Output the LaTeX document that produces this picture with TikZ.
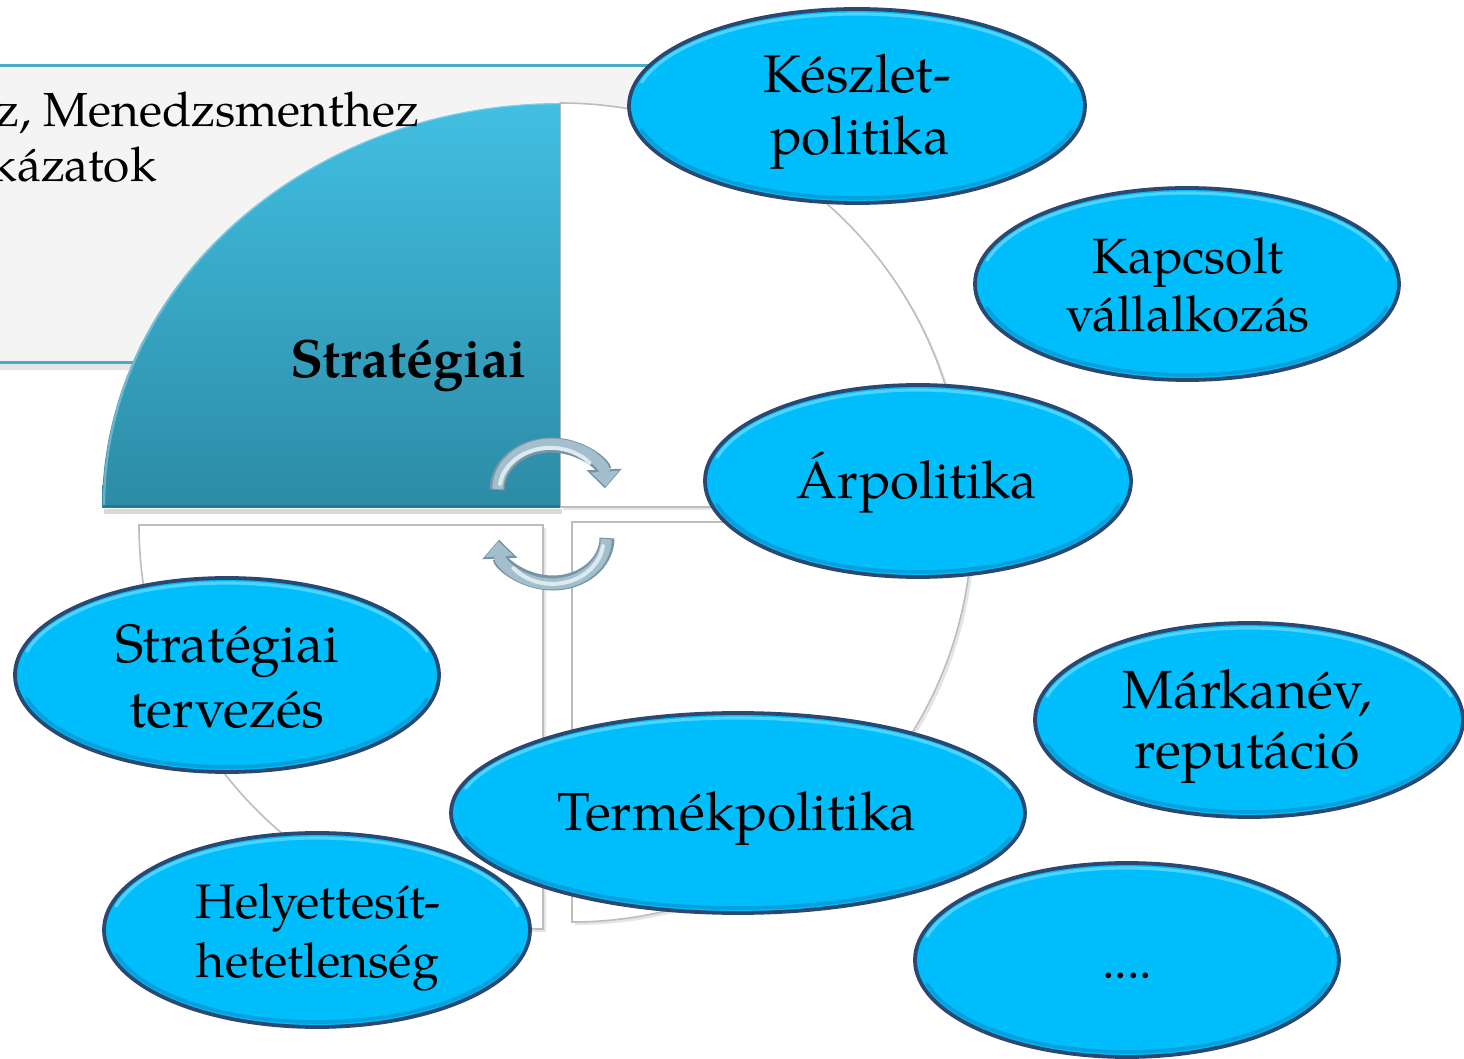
\documentclass[tikz,border=0pt]{standalone}
\usepackage{fontspec}
\setmainfont{TeX Gyre Pagella}
\usetikzlibrary{shapes.geometric,arrows.meta,calc}
\definecolor{boxfill}{HTML}{F4F4F4}
\definecolor{boxline}{HTML}{4BACC6}
\definecolor{tealtop}{HTML}{42BFE2}
\definecolor{tealbot}{HTML}{2C8BA5}
\definecolor{tealedge}{HTML}{25778E}
\definecolor{quadline}{HTML}{BDBDBD}
\definecolor{ellcyan}{HTML}{00BDFC}
\definecolor{ellnavy}{HTML}{2A4870}
\definecolor{ellhi}{HTML}{5AD9FF}
\definecolor{elllo}{HTML}{0A8FC8}
\definecolor{arrmain}{HTML}{A3BECC}
\definecolor{arrhi}{HTML}{DCEAF0}
\definecolor{arredge}{HTML}{7895A5}
\newcommand\fsz[1]{\fontsize{#1pt}{1.2\dimexpr#1pt\relax}\selectfont}
\newcommand\bubble[5]{%
  \node[bub, minimum width=#4pt, minimum height=#5pt] (#1) at (#2,#3) {};
  \draw[ellhi, line width=1.6pt, line cap=round, opacity=0.85]
    ($(#2,#3)+(195:{#4-5} and {#5-5})$) arc[start angle=195, end angle=345, x radius=#4-5, y radius=#5-5];
  \draw[elllo, line width=1.8pt, line cap=round, opacity=0.6]
    ($(#2,#3)+(15:{#4-5} and {#5-5})$) arc[start angle=15, end angle=165, x radius=#4-5, y radius=#5-5];
}
\begin{document}
\begin{tikzpicture}[x=0.5pt,y=-0.5pt,
  bub/.style={ellipse, draw=ellnavy, line width=1.9pt, fill=ellcyan, inner sep=0pt},
  btxt/.style={text=black, inner sep=0pt, anchor=base},
  quadw/.style={fill=white, draw=quadline, line width=0.8pt},
  qshadow/.style={fill=black, opacity=0.10},
  ringedge/.style={arredge, line width=7.5pt, -{Triangle[width=17pt,length=9.5pt]}},
  ringarrow/.style={arrmain, line width=5.5pt, -{Triangle[width=13.5pt,length=7.5pt]}},
  ringhi/.style={arrhi, line width=2pt, line cap=round}]
\useasboundingbox (0,0) rectangle (1464,1059);
\clip (0,0) rectangle (1464,1059);
\fill[white] (0,0) rectangle (1464,1059);

% text box
\fill[black, opacity=0.10] (-20,364) rectangle (700,370);
\draw[boxline, line width=1.5pt, fill=boxfill] (-20,66) rectangle (690,363);

% white quadrants (shadows)
\fill[qshadow] (563,510) -- (563,106) arc[start angle=270, end angle=360, radius=404] -- cycle;
\fill[qshadow] (575,525) -- (975,525) arc[start angle=0, end angle=90, radius=400] -- cycle;
\fill[qshadow] (546,528) -- (142,528) arc[start angle=180, end angle=90, radius=404] -- cycle;
% white quadrants
\path[quadw] (560,507) -- (560,103) arc[start angle=270, end angle=360, radius=404] -- cycle;
\path[quadw] (572,522) -- (972,522) arc[start angle=0, end angle=90, radius=400] -- cycle;
\path[quadw] (543,525) -- (139,525) arc[start angle=180, end angle=90, radius=404] -- cycle;

% teal quadrant
\fill[black, opacity=0.15] (104,509) rectangle (562,514);
\shade[top color=tealtop, bottom color=tealbot] (560,508) -- (102,508)
   arc[start angle=180, end angle=270, x radius=458, y radius=405] -- cycle;
\draw[white, opacity=0.30, line width=1.2pt] (104,506)
   arc[start angle=180, end angle=270, x radius=456, y radius=403];
\draw[tealedge, line width=1.5pt] (103,506.5) -- (560,506.5);
\node[btxt, anchor=base east, font=\bfseries\fsz{27}] (strat) at (527,378) {Stratégiai};

% box text
\node[btxt, anchor=base east, font=\fsz{23.9}] (bt1) at (420,127) {z, Menedzsmenthez};
\node[btxt, anchor=base east, font=\fsz{23.9}] (bt2) at (157,182) {kázatok};

% circular arrows
\draw[ringedge] (497,490) arc[start angle=180, end angle=358, x radius=54, y radius=45];
\draw[ringarrow] (497.8,489) arc[start angle=180, end angle=357, x radius=54, y radius=45];
\draw[ringhi] (500,484) arc[start angle=188, end angle=320, x radius=51, y radius=42];
\draw[ringedge] (607,538) arc[start angle=0, end angle=178, x radius=54, y radius=45];
\draw[ringarrow] (606.2,539) arc[start angle=0, end angle=177, x radius=54, y radius=45];
\draw[ringhi] (603,546) arc[start angle=8, end angle=140, x radius=51, y radius=44];

% ellipses
\bubble{kesz}{857}{106}{228}{97}
\node[btxt, font=\fsz{26.5}] (keszA) at (857,93) {Készlet-};
\node[btxt, font=\fsz{26.5}] (keszB) at (860,155) {politika};

\bubble{kapcs}{1187}{284}{212}{96}
\node[btxt, font=\fsz{24.8}] (kapcsA) at (1188,274) {Kapcsolt};
\node[btxt, font=\fsz{24.8}] (kapcsB) at (1188,332) {vállalkozás};

\bubble{arp}{918}{481}{213}{96}
\node[btxt, font=\fsz{26.2}] (arpA) at (917,499) {Árpolitika};

\bubble{stt}{227}{675}{212}{97}
\node[btxt, font=\fsz{26.9}] (sttA) at (227,662) {Stratégiai};
\node[btxt, font=\fsz{26.9}] (sttB) at (227,727) {tervezés};

\bubble{mark}{1249}{720}{214}{97}
\node[btxt, font=\fsz{26.9}] (markA) at (1247,708) {Márkanév,};
\node[btxt, font=\fsz{26.9}] (markB) at (1247,768) {reputáció};

\bubble{term}{738}{813}{287}{100}
\node[btxt, font=\fsz{26.75}] (termA) at (737,830) {Termékpolitika};

\bubble{help}{317}{930}{213}{97}
\node[btxt, font=\fsz{24.2}] (helpA) at (318,918) {Helyettesít-};
\node[btxt, font=\fsz{24.2}] (helpB) at (318,977) {hetetlenség};

\bubble{dots}{1127}{960}{212}{97}
\node[btxt, font=\fsz{25}] (dotsA) at (1127,978) {....};
\end{tikzpicture}
\end{document}
